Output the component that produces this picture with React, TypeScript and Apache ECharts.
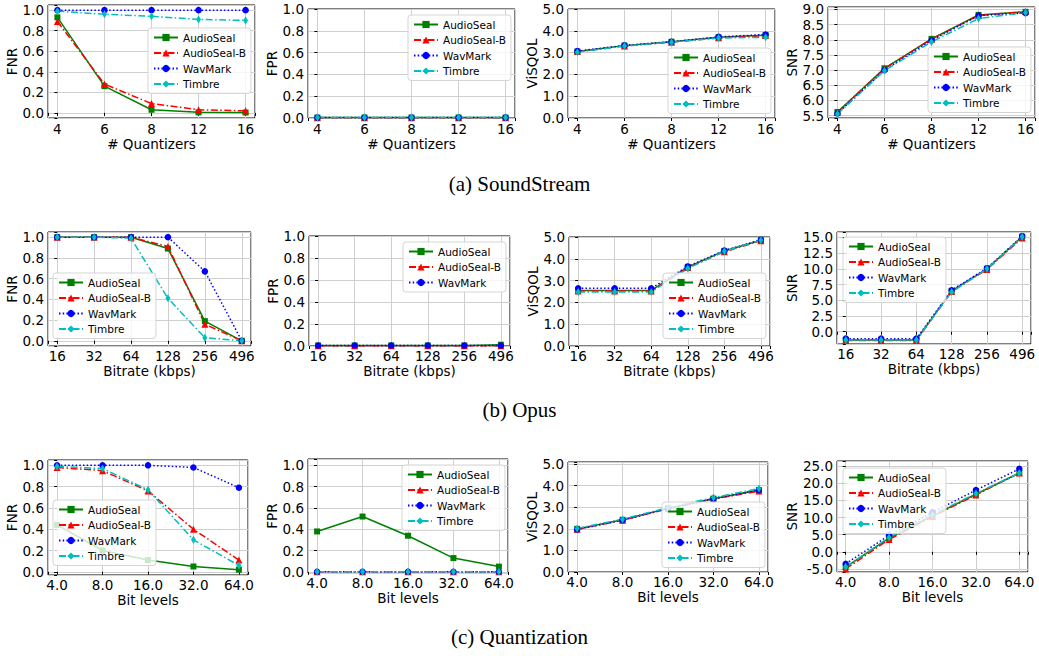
import React, { useEffect, useRef } from 'react';
import * as echarts from 'echarts';

const SERIES_NAMES = ['AudioSeal', 'AudioSeal-B', 'WavMark', 'Timbre'];

// x categories (tick labels)
const quantizers = ['4', '6', '8', '12', '16'];
const bitrates = ['16', '32', '64', '128', '256', '496'];
const bitLevels = ['4.0', '8.0', '16.0', '32.0', '64.0'];

// (a) SoundStream
const ssFnrAudioSeal = [0.93, 0.26, 0.03, 0.005, 0.003];
const ssFnrAudioSealB = [0.89, 0.28, 0.09, 0.03, 0.02];
const ssFnrWavMark = [1.0, 1.0, 1.0, 1.0, 1.0];
const ssFnrTimbre = [0.99, 0.96, 0.94, 0.91, 0.9];

const ssFprAudioSeal = [0.004, 0.004, 0.004, 0.004, 0.004];
const ssFprAudioSealB = [0.003, 0.003, 0.003, 0.003, 0.003];
const ssFprWavMark = [0.004, 0.004, 0.004, 0.004, 0.004];
const ssFprTimbre = [0.005, 0.005, 0.005, 0.005, 0.005];

const ssVisqolAudioSeal = [3.05, 3.32, 3.5, 3.7, 3.8];
const ssVisqolAudioSealB = [3.05, 3.3, 3.48, 3.68, 3.78];
const ssVisqolWavMark = [3.07, 3.33, 3.5, 3.72, 3.83];
const ssVisqolTimbre = [3.02, 3.3, 3.48, 3.67, 3.7];

const ssSnrAudioSeal = [5.62, 7.06, 8.03, 8.82, 8.92];
const ssSnrAudioSealB = [5.6, 7.05, 8.02, 8.8, 8.93];
const ssSnrWavMark = [5.57, 7.0, 7.98, 8.8, 8.88];
const ssSnrTimbre = [5.55, 6.98, 7.93, 8.7, 8.9];

// (b) Opus
const opFnrAudioSeal = [1.0, 1.0, 1.0, 0.89, 0.19, 0.0];
const opFnrAudioSealB = [1.0, 1.0, 1.0, 0.91, 0.16, 0.0];
const opFnrWavMark = [1.0, 1.0, 1.0, 1.0, 0.67, 0.0];
const opFnrTimbre = [1.0, 1.0, 0.99, 0.41, 0.03, 0.0];

const opFprAudioSeal = [0.005, 0.005, 0.005, 0.005, 0.005, 0.012];
const opFprAudioSealB = [0.003, 0.003, 0.003, 0.003, 0.003, 0.003];
const opFprWavMark = [0.005, 0.005, 0.005, 0.005, 0.005, 0.005];

const opVisqolAudioSeal = [2.55, 2.55, 2.55, 3.62, 4.36, 4.85];
const opVisqolAudioSealB = [2.52, 2.52, 2.52, 3.6, 4.32, 4.83];
const opVisqolWavMark = [2.65, 2.65, 2.65, 3.65, 4.38, 4.87];
const opVisqolTimbre = [2.48, 2.48, 2.48, 3.55, 4.35, 4.85];

const opSnrAudioSeal = [-1.3, -1.3, -1.3, 6.5, 10.0, 15.1];
const opSnrAudioSealB = [-1.4, -1.4, -1.4, 6.4, 9.9, 14.9];
const opSnrWavMark = [-1.1, -1.1, -1.1, 6.6, 10.1, 15.2];
const opSnrTimbre = [-1.3, -1.3, -1.3, 6.3, 10.0, 15.1];

// (c) Quantization
const qFnrAudioSeal = [0.44, 0.2, 0.11, 0.05, 0.02];
const qFnrAudioSealB = [0.98, 0.95, 0.76, 0.4, 0.11];
const qFnrWavMark = [1.0, 1.0, 1.0, 0.98, 0.79];
const qFnrTimbre = [0.99, 0.97, 0.77, 0.3, 0.06];

const qFprAudioSeal = [0.38, 0.52, 0.34, 0.13, 0.05];
const qFprAudioSealB = [0.002, 0.002, 0.002, 0.002, 0.002];
const qFprWavMark = [0.002, 0.002, 0.002, 0.002, 0.002];
const qFprTimbre = [0.002, 0.002, 0.002, 0.002, 0.002];

const qVisqolAudioSeal = [2.0, 2.42, 2.95, 3.4, 3.8];
const qVisqolAudioSealB = [1.98, 2.4, 2.93, 3.38, 3.75];
const qVisqolWavMark = [1.97, 2.4, 2.95, 3.4, 3.8];
const qVisqolTimbre = [2.02, 2.45, 2.98, 3.45, 3.87];

const qSnrAudioSeal = [-4.5, 4.0, 10.5, 16.8, 23.0];
const qSnrAudioSealB = [-5.0, 3.6, 10.3, 16.6, 23.0];
const qSnrWavMark = [-3.5, 4.8, 11.5, 18.0, 24.2];
const qSnrTimbre = [-4.4, 4.2, 10.8, 17.0, 23.0];

const captions = ['(a) SoundStream', '(b) Opus', '(c) Quantization'];

const FONT = '"DejaVu Sans", sans-serif';

const STYLES = [
  { color: '#008000', symbol: 'rect', symbolSize: 6, type: 'solid' as any },
  { color: '#ff0000', symbol: 'triangle', symbolSize: 7, type: [7, 2.5, 1.5, 2.5] },
  { color: '#0000ff', symbol: 'circle', symbolSize: 6.5, type: [1.5, 2.2] },
  { color: '#00bfbf', symbol: 'diamond', symbolSize: [5, 8], type: [7, 2.5, 1.5, 2.5] },
];

type Panel = {
  cats: string[];
  xName: string;
  yName: string;
  values: (number[] | null)[];
  yMin: number;
  yMax: number;
  yStep: number;
  box: [number, number, number, number]; // left, top, right, bottom (px)
  legendPos: [number, number];
  xNameGap: number;
  xLabelMargin: number;
  yNameGap: number;
};

const panels: Panel[] = [
  // Row (a)
  { cats: quantizers, xName: '# Quantizers', yName: 'FNR', values: [ssFnrAudioSeal, ssFnrAudioSealB, ssFnrWavMark, ssFnrTimbre], yMin: -0.05, yMax: 1.05, yStep: 0.2, box: [48, 5, 255, 118], legendPos: [148, 28], xNameGap: 17, xLabelMargin: 4, yNameGap: 28 },
  { cats: quantizers, xName: '# Quantizers', yName: 'FPR', values: [ssFprAudioSeal, ssFprAudioSealB, ssFprWavMark, ssFprTimbre], yMin: 0, yMax: 1, yStep: 0.2, box: [308, 9, 515, 118], legendPos: [408, 15], xNameGap: 17, xLabelMargin: 4, yNameGap: 27 },
  { cats: quantizers, xName: '# Quantizers', yName: 'ViSQOL', values: [ssVisqolAudioSeal, ssVisqolAudioSealB, ssVisqolWavMark, ssVisqolTimbre], yMin: 0, yMax: 5, yStep: 1, box: [568, 9, 775, 118], legendPos: [668, 48], xNameGap: 17, xLabelMargin: 4, yNameGap: 27 },
  { cats: quantizers, xName: '# Quantizers', yName: 'SNR', values: [ssSnrAudioSeal, ssSnrAudioSealB, ssSnrWavMark, ssSnrTimbre], yMin: 5.42, yMax: 9.08, yStep: 0.5, box: [828, 7, 1035, 118], legendPos: [928, 47], xNameGap: 17, xLabelMargin: 4, yNameGap: 28 },
  // Row (b)
  { cats: bitrates, xName: 'Bitrate (kbps)', yName: 'FNR', values: [opFnrAudioSeal, opFnrAudioSealB, opFnrWavMark, opFnrTimbre], yMin: -0.05, yMax: 1.05, yStep: 0.2, box: [48, 232, 251, 346], legendPos: [53, 273], xNameGap: 15, xLabelMargin: 3, yNameGap: 27 },
  { cats: bitrates, xName: 'Bitrate (kbps)', yName: 'FPR', values: [opFprAudioSeal, opFprAudioSealB, opFprWavMark, null], yMin: 0, yMax: 1, yStep: 0.2, box: [309, 236, 510, 346], legendPos: [403, 242], xNameGap: 15, xLabelMargin: 3, yNameGap: 27 },
  { cats: bitrates, xName: 'Bitrate (kbps)', yName: 'ViSQOL', values: [opVisqolAudioSeal, opVisqolAudioSealB, opVisqolWavMark, opVisqolTimbre], yMin: 0, yMax: 5, yStep: 1, box: [569, 237, 770, 346], legendPos: [663, 273], xNameGap: 15, xLabelMargin: 3, yNameGap: 27 },
  { cats: bitrates, xName: 'Bitrate (kbps)', yName: 'SNR', values: [opSnrAudioSeal, opSnrAudioSealB, opSnrWavMark, opSnrTimbre], yMin: -1.95, yMax: 15.85, yStep: 2.5, box: [837, 232, 1031, 344], legendPos: [843, 237], xNameGap: 15, xLabelMargin: 3, yNameGap: 35 },
  // Row (c)
  { cats: bitLevels, xName: 'Bit levels', yName: 'FNR', values: [qFnrAudioSeal, qFnrAudioSealB, qFnrWavMark, qFnrTimbre], yMin: -0.03, yMax: 1.05, yStep: 0.2, box: [48, 460, 248, 575], legendPos: [53, 500], xNameGap: 16, xLabelMargin: 3, yNameGap: 27 },
  { cats: bitLevels, xName: 'Bit levels', yName: 'FPR', values: [qFprAudioSeal, qFprAudioSealB, qFprWavMark, qFprTimbre], yMin: -0.01, yMax: 1.06, yStep: 0.2, box: [308, 459, 508, 573], legendPos: [402, 465], xNameGap: 17, xLabelMargin: 3, yNameGap: 27 },
  { cats: bitLevels, xName: 'Bit levels', yName: 'ViSQOL', values: [qVisqolAudioSeal, qVisqolAudioSealB, qVisqolWavMark, qVisqolTimbre], yMin: 0, yMax: 5.1, yStep: 1, box: [568, 462, 768, 572], legendPos: [662, 502], xNameGap: 17, xLabelMargin: 3, yNameGap: 27 },
  { cats: bitLevels, xName: 'Bit levels', yName: 'SNR', values: [qSnrAudioSeal, qSnrAudioSealB, qSnrWavMark, qSnrTimbre], yMin: -5.9, yMax: 26.5, yStep: 5, box: [837, 461, 1028, 572], legendPos: [843, 468], xNameGap: 17, xLabelMargin: 3, yNameGap: 35 },
];

const captionTops = [173, 399, 626];

function buildOption() {
  const grid: any[] = [];
  const xAxis: any[] = [];
  const yAxis: any[] = [];
  const series: any[] = [];
  const legend: any[] = [];

  panels.forEach((p, i) => {
    const [l, t, r, b] = p.box;
    grid.push({
      left: l, top: t, width: r - l, height: b - t,
      show: true, borderColor: '#000', borderWidth: 1, backgroundColor: 'transparent',
      containLabel: false,
    });
    const pad = p.cats.length === 6 ? 0.25 : 0.2;
    xAxis.push({
      type: 'value', gridIndex: i,
      min: -pad, max: p.cats.length - 1 + pad,
      minInterval: 1, maxInterval: 1,
      name: p.xName, nameLocation: 'middle', nameGap: p.xNameGap,
      nameTextStyle: { fontSize: 13.5, color: '#000', fontFamily: FONT },
      axisLine: { show: false },
      axisTick: { show: true, length: 3, lineStyle: { color: '#000' } },
      axisLabel: {
        margin: p.xLabelMargin, fontSize: 13.5, color: '#000', fontFamily: FONT, hideOverlap: false,
        formatter: (v: number) => {
          const k = Math.round(v);
          return Math.abs(v - k) < 1e-6 && k >= 0 && k < p.cats.length ? p.cats[k] : '';
        },
      },
      splitLine: { show: true, lineStyle: { color: '#cfcfcf', width: 1 } },
    });
    yAxis.push({
      type: 'value', gridIndex: i,
      min: p.yMin, max: p.yMax,
      minInterval: p.yStep, maxInterval: p.yStep,
      name: p.yName, nameLocation: 'middle', nameGap: p.yNameGap,
      nameTextStyle: { fontSize: 13.5, color: '#000', fontFamily: FONT },
      axisLine: { show: false },
      axisTick: { show: true, length: 3, lineStyle: { color: '#000' } },
      axisLabel: {
        margin: 4, fontSize: 13.5, color: '#000', fontFamily: FONT, hideOverlap: false,
        formatter: (v: number) => {
          const k = Math.round(v / p.yStep);
          if (Math.abs(v - k * p.yStep) > p.yStep * 1e-3) return '';
          return (k * p.yStep).toFixed(1);
        },
      },
      splitLine: { show: true, lineStyle: { color: '#cfcfcf', width: 1 } },
    });
    const names: string[] = [];
    p.values.forEach((vals, s) => {
      if (!vals) return;
      const st = STYLES[s];
      names.push(SERIES_NAMES[s]);
      series.push({
        type: 'line', name: SERIES_NAMES[s], xAxisIndex: i, yAxisIndex: i,
        data: vals.map((v, k) => [k, v]),
        symbol: st.symbol, symbolSize: st.symbolSize, showSymbol: true,
        itemStyle: { color: st.color },
        lineStyle: { color: st.color, width: 1.5, type: st.type },
        emphasis: { disabled: true },
        clip: false,
      });
    });
    legend.push({
      data: names, orient: 'vertical', left: p.legendPos[0], top: p.legendPos[1],
      itemWidth: 24, itemHeight: 9, itemGap: 4.5, padding: [4, 5, 4, 5],
      backgroundColor: 'rgba(255,255,255,0.8)', borderColor: '#d5d5d5', borderWidth: 1, borderRadius: 3,
      textStyle: { fontSize: 10.5, color: '#000', fontFamily: FONT },
      selectedMode: false,
    });
  });

  const graphic = captions.map((c, i) => ({
    type: 'text', left: 'center', top: captionTops[i],
    style: { text: c, font: '21px "Liberation Serif", "Times New Roman", serif', fill: '#000' },
  }));

  return { animation: false, backgroundColor: '#fff', grid, xAxis, yAxis, series, legend, graphic };
}

export default function App() {
  const ref = useRef<HTMLDivElement>(null);
  useEffect(() => {
    if (!ref.current) return;
    const chart = echarts.init(ref.current, undefined, { renderer: 'svg' });
    chart.setOption(buildOption() as any);
    return () => chart.dispose();
  }, []);
  return (
    <div
      ref={ref}
      style={{ position: 'fixed', left: 0, top: 0, width: 1039, height: 658, background: '#fff' }}
    />
  );
}
